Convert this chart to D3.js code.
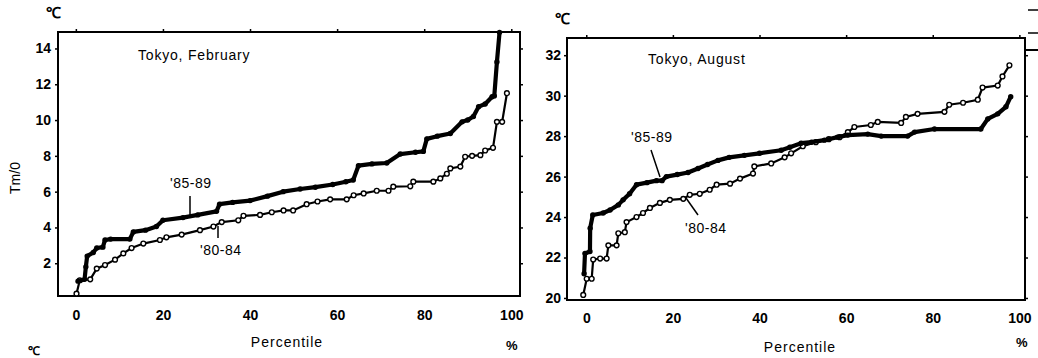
<!DOCTYPE html>
<html><head><meta charset="utf-8">
<script src="https://cdn.jsdelivr.net/npm/d3@7"></script>
<style>
body{margin:0;background:#fff;}
svg{display:block;}
text{font-family:"Liberation Sans",Arial,sans-serif;fill:#000;}
</style></head>
<body>
<svg id="c" width="1038" height="358"></svg>
<script>
// ---- data (percentile, temperature) ----
const xTicks = [0, 20, 40, 60, 80, 100];
const febYTicks = [2, 4, 6, 8, 10, 12, 14];
const augYTicks = [20, 22, 24, 26, 28, 30, 32];
const seriesNames = ["'85-89", "'80-84"];

const feb8589 = [[0.5,1.0],[2,1.1],[2.3,1.8],[2.6,2.4],[4,2.6],[4.8,2.85],[6.2,2.9],[6.7,3.3],[8,3.35],[12.4,3.35],[13.2,3.75],[16,3.85],[18.5,4.05],[20,4.4],[24.6,4.55],[28,4.7],[32.3,4.9],[33,5.3],[36,5.4],[40,5.5],[44,5.75],[47.6,6.0],[51.5,6.15],[55,6.25],[59,6.4],[62,6.55],[63.7,6.65],[64.9,7.45],[68,7.55],[71.4,7.6],[74.5,8.1],[78,8.2],[79.8,8.25],[80.6,8.95],[83,9.1],[86,9.25],[88.7,9.9],[90,10.0],[91.3,10.2],[92.5,10.75],[94,10.9],[95.6,11.3],[96.1,11.35],[96.7,13.25],[97.3,14.9]];
const feb8084 = [[0.15,0.3],[0.9,1.05],[3.3,1.1],[4.8,1.7],[6.7,1.9],[9,2.2],[10.9,2.55],[12.8,2.85],[15.5,3.1],[19.3,3.3],[20.8,3.45],[24.3,3.6],[28.5,3.85],[31.6,4.05],[33.5,4.3],[37.3,4.4],[38.5,4.65],[42.3,4.7],[45,4.85],[47.7,4.95],[49.9,4.95],[53,5.3],[55.5,5.45],[58.4,5.57],[62.2,5.57],[63.8,5.8],[66.1,5.9],[69.1,6.05],[71.8,6.05],[72.9,6.28],[76.8,6.3],[77.5,6.56],[82.1,6.56],[83.7,6.74],[85.2,7.0],[86,7.3],[88.3,7.4],[89.4,7.95],[91,8.0],[92.9,8.04],[94,8.3],[95.8,8.45],[96.7,9.9],[97.9,9.9],[99,11.5]];
const aug8589 = [[-0.5,21.2],[-0.3,22.2],[0.85,22.3],[0.9,23.45],[1.5,24.1],[3.9,24.2],[5.5,24.35],[7.4,24.6],[8.5,24.85],[10,25.15],[11.6,25.6],[14,25.7],[16.2,25.8],[17.5,25.8],[18.5,26.0],[21,26.1],[23.5,26.2],[25.8,26.4],[28,26.6],[30.4,26.8],[33,26.95],[36.5,27.05],[40,27.15],[45,27.3],[47,27.45],[49.6,27.65],[52,27.7],[55,27.8],[58,27.95],[60.4,28.05],[65,28.1],[68.1,28.0],[74.2,28.0],[75.8,28.2],[80.4,28.35],[91.1,28.35],[92.7,28.85],[95,29.1],[96.9,29.45],[98,29.95]];
const aug8084 = [[-0.7,20.15],[0.1,20.95],[1.25,20.95],[1.6,21.9],[3.2,21.95],[4.7,21.95],[5.1,22.6],[7,22.6],[7.4,23.2],[8.9,23.25],[9.3,23.75],[11.6,24.0],[13.1,24.2],[14.7,24.45],[17,24.7],[19.3,24.85],[22.4,24.9],[23.9,25.1],[26.2,25.15],[28.5,25.35],[30.1,25.6],[33.2,25.65],[35.5,25.9],[38.5,26.15],[38.8,26.5],[42.7,26.65],[45.8,26.95],[47.3,27.15],[50,27.5],[53,27.7],[56,27.85],[58.5,27.95],[60.4,28.2],[61.9,28.45],[65.7,28.55],[67.3,28.7],[72.7,28.65],[73.8,28.95],[76.5,29.1],[82.7,29.2],[83.8,29.55],[87,29.65],[90.4,29.8],[91.5,30.4],[95,30.5],[96.1,30.95],[97.7,31.5]];

// ---- layout ----
const svg = d3.select("#c");
svg.append("rect").attr("width",1038).attr("height",358).attr("fill","#fff");

const panels = [
  {title:"Tokyo, February", a:feb8589, b:feb8084, yTicks:febYTicks,
   xr:[58,520], yr:[296,32], xd:[-4.1,102], yd:[0.17,14.92],
   titlePos:[138,60], labA:[170,188], leadA:[[190,196],[190,215]], labB:[200,255], leadB:[[218,226],[218,238]],
   xLabY:321, yLabPad:4, pctX:[287,347], pctSign:[506,350]},
  {title:"Tokyo, August", a:aug8589, b:aug8084, yTicks:augYTicks,
   xr:[567,1025], yr:[300,38], xd:[-4.45,101.3], yd:[19.9,32.85],
   titlePos:[648,64], labA:[631,142], leadA:[[651,150],[660,177]], labB:[685,233], leadB:[[686,198],[698,215]],
   xLabY:324, yLabPad:3, pctX:[800,352], pctSign:[1016,347]}
];

panels.forEach(p => {
  const x = d3.scaleLinear().domain(p.xd).range(p.xr);
  const y = d3.scaleLinear().domain(p.yd).range(p.yr);
  const g = svg.append("g");
  // frame
  g.append("rect").attr("x",p.xr[0]).attr("y",p.yr[1])
    .attr("width",p.xr[1]-p.xr[0]).attr("height",p.yr[0]-p.yr[1])
    .attr("fill","none").attr("stroke","#000").attr("stroke-width",2);
  // y axis
  const ya = g.append("g").attr("transform",`translate(${p.xr[0]},0)`)
    .call(d3.axisLeft(y).tickValues(p.yTicks).tickSize(3).tickPadding(p.yLabPad).tickFormat(d3.format("d")));
  ya.select(".domain").remove();
  ya.selectAll("line").attr("stroke-width",1.5);
  ya.selectAll("text").attr("font-size",14).attr("font-weight","bold");
  // right-side ticks
  const yr = g.append("g").attr("transform",`translate(${p.xr[1]},0)`)
    .call(d3.axisRight(y).tickValues(p.yTicks).tickSize(3).tickFormat(""));
  yr.select(".domain").remove();
  yr.selectAll("line").attr("stroke-width",1.5);
  // top ticks
  const xt = g.append("g").attr("transform",`translate(0,${p.yr[1]})`)
    .call(d3.axisTop(x).tickValues(xTicks).tickSize(3).tickFormat(""));
  xt.select(".domain").remove();
  xt.selectAll("line").attr("stroke-width",1.5);
  // x axis labels
  const xa = g.append("g").attr("transform",`translate(0,${p.yr[0]})`)
    .call(d3.axisBottom(x).tickValues(xTicks).tickSize(0).tickPadding(p.xLabY - p.yr[0] - 11));
  xa.select(".domain").remove();
  xa.selectAll("text").attr("font-size",14).attr("font-weight","bold");

  const line = d3.line().x(d=>x(d[0])).y(d=>y(d[1]));
  // '80-84 open circles
  g.append("path").datum(p.b).attr("d",line).attr("fill","none")
    .attr("stroke","#000").attr("stroke-width",2.2);
  g.selectAll(".ob").data(p.b).join("circle").attr("cx",d=>x(d[0])).attr("cy",d=>y(d[1]))
    .attr("r",2.4).attr("fill","#fff").attr("stroke","#000").attr("stroke-width",1.4);
  // '85-89 thick line with filled dots
  g.append("path").datum(p.a).attr("d",line).attr("fill","none")
    .attr("stroke","#000").attr("stroke-width",4.2).attr("stroke-linejoin","round");
  g.selectAll(".fa").data(p.a).join("circle").attr("cx",d=>x(d[0])).attr("cy",d=>y(d[1]))
    .attr("r",2.7).attr("fill","#000");

  // title & labels
  g.append("text").attr("x",p.titlePos[0]).attr("y",p.titlePos[1])
    .attr("font-size",14).attr("letter-spacing",0.8).text(p.title);
  g.append("text").attr("x",p.labA[0]).attr("y",p.labA[1]).attr("font-size",14)
    .attr("letter-spacing",0.5).text(seriesNames[0]);
  g.append("text").attr("x",p.labB[0]).attr("y",p.labB[1]).attr("font-size",14)
    .attr("letter-spacing",0.5).text(seriesNames[1]);
  [p.leadA,p.leadB].forEach(l => g.append("line").attr("x1",l[0][0]).attr("y1",l[0][1])
    .attr("x2",l[1][0]).attr("y2",l[1][1]).attr("stroke","#000").attr("stroke-width",1.5));
  g.append("text").attr("x",p.pctX[0]).attr("y",p.pctX[1]).attr("text-anchor","middle")
    .attr("font-size",14).attr("letter-spacing",1).text("Percentile");
  g.append("text").attr("x",p.pctSign[0]).attr("y",p.pctSign[1]).attr("font-size",13)
    .attr("font-weight","bold").text("%");
  g.append("text").attr("x",p.xr[0]-12).attr("y",p.yr[1]-14).attr("font-size",15)
    .attr("font-weight","bold").text("℃");
});

// y-axis label of left panel
svg.append("text").attr("transform","translate(20,178) rotate(-90)")
  .attr("text-anchor","middle").attr("font-size",14).text("Tm/0");
// stray mark of next figure
svg.append("text").attr("x",28).attr("y",355).attr("font-size",12).attr("font-weight","bold").text("℃");
// stray lines at right edge
[[1028,10],[1028,33]].forEach(s=>svg.append("line").attr("x1",s[0]).attr("x2",1038)
  .attr("y1",s[1]).attr("y2",s[1]).attr("stroke","#000").attr("stroke-width",1.5));
svg.append("line").attr("x1",1025).attr("x2",1038).attr("y1",50).attr("y2",50)
  .attr("stroke","#000").attr("stroke-width",2);
</script>
</body></html>
